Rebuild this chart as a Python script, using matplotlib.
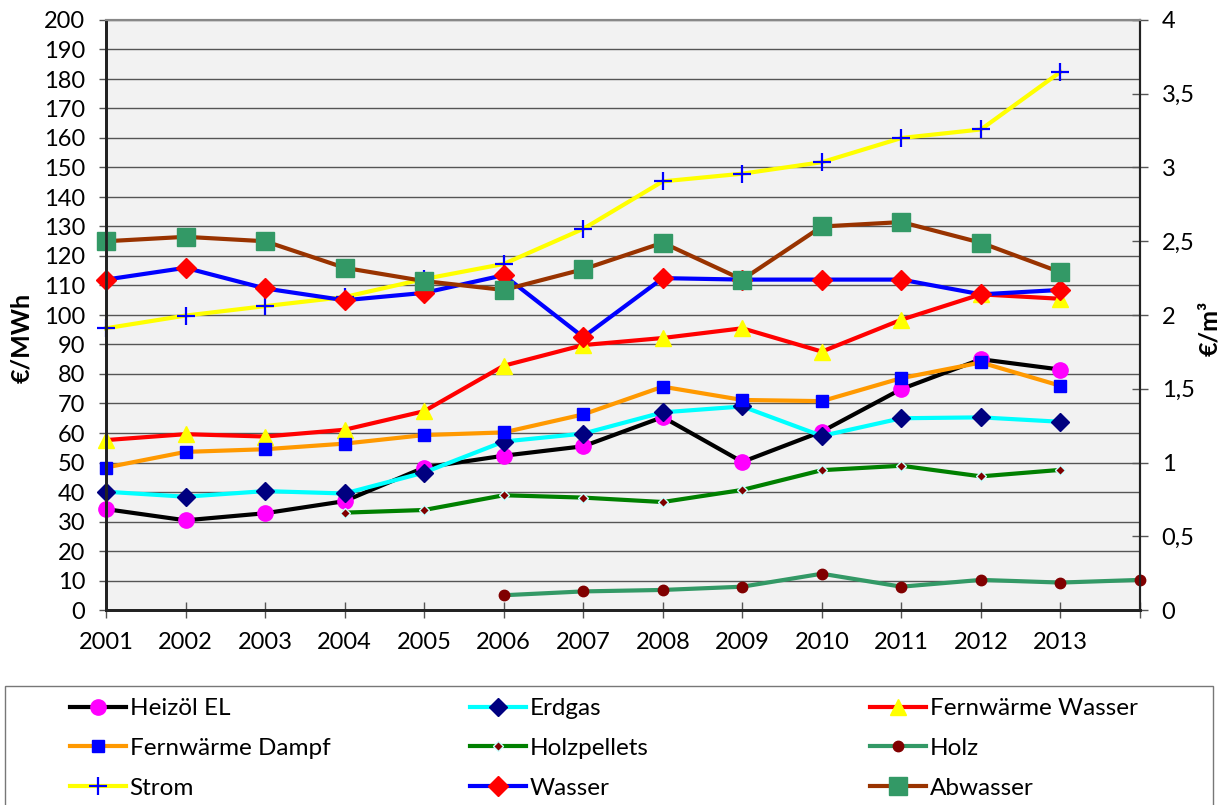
import numpy as np
import matplotlib
matplotlib.use("Agg")
import matplotlib.pyplot as plt
from matplotlib.patches import Rectangle
from matplotlib.ticker import FuncFormatter

plt.rcParams['font.family'] = ['Lato', 'DejaVu Sans']

nan = np.nan
years = list(range(2001, 2015))
year_labels = [str(y) for y in range(2001, 2014)] + ['']

# €/MWh (left axis)
heizoel = [34.2, 30.4, 32.8, 36.9, 48.3, 52.3, 55.5, 65.4, 50.2, 60.5, 74.9, 85.0, 81.5, nan]
erdgas = [40.1, 38.4, 40.3, 39.5, 46.6, 57.1, 59.8, 67.0, 69.0, 59.0, 65.0, 65.3, 63.8, nan]
fw_wasser = [57.6, 59.6, 58.8, 61.1, 67.4, 82.8, 89.8, 92.2, 95.5, 87.6, 98.4, 107.0, 105.5, nan]
fw_dampf = [48.3, 53.6, 54.5, 56.4, 59.3, 60.2, 66.3, 75.7, 71.2, 70.8, 78.6, 83.9, 76.0, nan]
holzpellets = [nan, nan, nan, 33.0, 33.9, 38.9, 38.1, 36.6, 40.7, 47.4, 48.9, 45.3, 47.5, nan]
holz = [nan, nan, nan, nan, nan, 5.0, 6.3, 6.8, 7.9, 12.3, 7.9, 10.2, 9.3, 10.2]
strom = [95.5, 99.8, 103.0, 106.1, 112.2, 117.3, 129.2, 145.3, 147.9, 151.8, 160.0, 162.9, 182.4, nan]
# €/m³ (right axis)
wasser = [2.24, 2.32, 2.18, 2.10, 2.15, 2.27, 1.85, 2.25, 2.24, 2.24, 2.24, 2.14, 2.17, nan]
abwasser = [2.50, 2.53, 2.50, 2.32, 2.23, 2.17, 2.31, 2.49, 2.24, 2.60, 2.63, 2.49, 2.29, nan]

W, H = 1229, 805
fig = plt.figure(figsize=(W / 100, H / 100), dpi=100)
ax = fig.add_axes([106 / W, 1 - 610 / H, (1140 - 106) / W, (610 - 20) / H])
ax.set_facecolor('#f2f2f2')
ax2 = ax.twinx()

lw = 3
common = dict(linewidth=lw, clip_on=False)

left_series = [
    ('Heizöl EL', heizoel, dict(color='black', marker='o', ms=11, mfc='#ff00ff', mec='#ff00ff')),
    ('Erdgas', erdgas, dict(color='#00ffff', marker='D', ms=9, mfc='#000080', mec='#000080')),
    ('Fernwärme Wasser', fw_wasser, dict(color='#ff0000', marker='^', ms=12, mfc='#ffff00', mec='#ffff00')),
    ('Fernwärme Dampf', fw_dampf, dict(color='#ff9900', marker='s', ms=8, mfc='#0000ff', mec='#0000ff')),
    ('Holzpellets', holzpellets, dict(color='#008000', marker='D', ms=5, mfc='#800000', mec='#ccffff', mew=1)),
    ('Holz', holz, dict(color='#339966', marker='o', ms=7.5, mfc='#800000', mec='#800000')),
    ('Strom', strom, dict(color='#ffff00', marker='+', ms=13, mfc='#0000ff', mec='#0000ff', mew=1.6)),
]
right_series = [
    ('Wasser', wasser, dict(color='#0000ff', marker='D', ms=10, mfc='#ff0000', mec='#ff0000')),
    ('Abwasser', abwasser, dict(color='#993300', marker='s', ms=13, mfc='#339966', mec='#339966')),
]

handles = {}
for name, vals, st in left_series:
    h, = ax.plot(years, vals, label=name, **common, **st)
    handles[name] = h
for name, vals, st in right_series:
    h, = ax2.plot(years, vals, label=name, **common, **st)
    handles[name] = h

# axes
ax.set_xlim(2001, 2014)
ax.set_ylim(0, 200)
ax2.set_ylim(0, 4)
ax.set_xticks(years)
ax.set_xticklabels(year_labels)
ax.set_yticks(np.arange(0, 201, 10))
ax2.set_yticks(np.arange(0, 4.01, 0.5))
ax2.yaxis.set_major_formatter(FuncFormatter(lambda v, p: ('%g' % v).replace('.', ',')))

ax.grid(axis='y', color='#555555', linewidth=1)
ax.set_axisbelow(True)

fs = 17
ax.tick_params(axis='x', direction='inout', length=11, width=1, color='#555555',
               labelsize=fs, pad=10)
ax.tick_params(axis='y', direction='out', length=5, width=1, color='#555555',
               labelsize=fs, pad=10)
ax2.tick_params(axis='y', direction='inout', length=11, width=1, color='#555555',
                labelsize=fs, pad=10)

for a in (ax, ax2):
    a.spines['left'].set_linewidth(2)
    a.spines['left'].set_color('#222222')
    a.spines['bottom'].set_linewidth(2)
    a.spines['bottom'].set_color('#222222')
    a.spines['right'].set_linewidth(1.5)
    a.spines['right'].set_color('#222222')
    a.spines['top'].set_linewidth(1.5)
    a.spines['top'].set_color('#888888')

fig.text(22 / W, 1 - 338 / H, '€/MWh', rotation=90, ha='center', va='center',
         fontsize=18, fontweight='bold')
fig.text(1210 / W, 1 - 328 / H, '€/m³', rotation=90, ha='center', va='center',
         fontsize=18, fontweight='bold')

# legend box
fig.patches.append(Rectangle((5 / W, -0.02), (1213 - 5) / W, (805 - 686) / H + 0.02,
                             transform=fig.transFigure, fill=False,
                             edgecolor='#777777', linewidth=1))

lfs = 17.5
columns = [
    (70, ['Heizöl EL', 'Fernwärme Dampf', 'Strom']),
    (470, ['Erdgas', 'Holzpellets', 'Wasser']),
    (870, ['Fernwärme Wasser', 'Holz', 'Abwasser']),
]
for x0, names in columns:
    fig.legend([handles[n] for n in names], names, loc='upper left',
               bbox_to_anchor=(x0 / W, 1 - 698 / H), frameon=False,
               fontsize=lfs, handlelength=2.3, handletextpad=0.15,
               labelspacing=0.78, borderpad=0, borderaxespad=0, numpoints=1)

fig.savefig('out.png', dpi=100)
